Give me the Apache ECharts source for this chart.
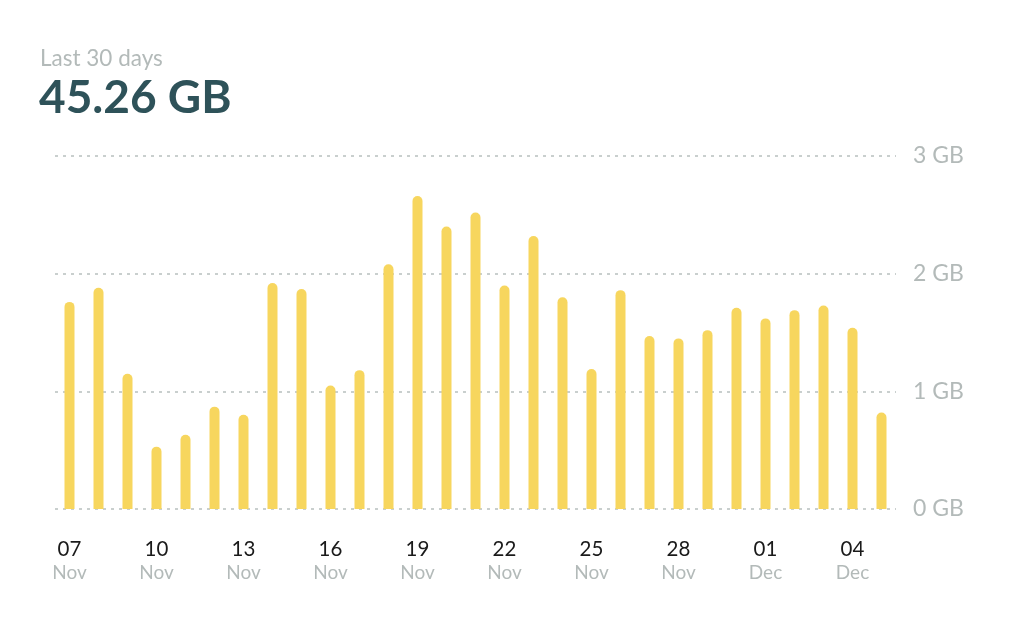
<!DOCTYPE html>
<html>
<head>
<meta charset="utf-8">
<script src="https://cdn.jsdelivr.net/npm/echarts@6/dist/echarts.min.js"></script>
<style>
html,body{margin:0;padding:0;background:#fff;}
#c{width:1024px;height:639px;}
</style>
</head>
<body>
<div id="c"></div>
<script>
const days = ['07','08','09','10','11','12','13','14','15','16','17','18','19','20','21','22','23','24','25','26','27','28','29','30','01','02','03','04','05'];
const months = ['Nov','Nov','Nov','Nov','Nov','Nov','Nov','Nov','Nov','Nov','Nov','Nov','Nov','Nov','Nov','Nov','Nov','Nov','Nov','Nov','Nov','Nov','Nov','Nov','Dec','Dec','Dec','Dec','Dec'];
const usageGB = [1.76,1.88,1.15,0.53,0.63,0.87,0.80,1.92,1.87,1.05,1.18,2.08,2.66,2.40,2.52,1.90,2.32,1.80,1.19,1.86,1.47,1.45,1.52,1.71,1.62,1.69,1.73,1.54,0.82];
const yTicks = [0,1,2,3];
const subtitle = 'Last 30 days';
const total = '45.26 GB';

const categories = days.map((d,i)=>d+'|'+months[i]);
const chart = echarts.init(document.getElementById('c'));
chart.setOption({
  backgroundColor:'#fff',
  animation:false,
  textStyle:{fontFamily:'Lato'},
  title:[
    {text:subtitle,left:35,top:42,textStyle:{fontFamily:'Lato',fontSize:22.5,fontWeight:'normal',color:'#B3BAB9'}},
    {text:total,left:34,top:70,textStyle:{fontFamily:'Lato',fontSize:46,fontWeight:'bold',color:'#2E5259'}}
  ],
  grid:{left:55,right:128,top:156,bottom:130},
  xAxis:{
    type:'category',
    data:categories,
    axisLine:{show:false},
    axisTick:{show:false},
    axisLabel:{
      interval:2,
      margin:28,
      formatter:function(v){const p=v.split('|');return '{d|'+p[0]+'}\n{m|'+p[1]+'}';},
      rich:{
        d:{fontFamily:'Lato',fontSize:20.5,color:'#1a1a1a',lineHeight:24},
        m:{fontFamily:'Lato',fontSize:19,color:'#B3BAB9',lineHeight:24}
      }
    }
  },
  yAxis:{
    type:'value',
    position:'right',
    min:yTicks[0],
    max:yTicks[yTicks.length-1],
    interval:1,
    axisLine:{show:false},
    axisTick:{show:false},
    axisLabel:{margin:17,fontFamily:'Lato',fontSize:23,color:'#B3BAB9',formatter:function(v){return v+' GB';}},
    splitLine:{lineStyle:{type:[3,5],color:'#B8C0BF',width:1.5}}
  },
  series:[{
    type:'bar',
    data:usageGB,
    barWidth:10,
    itemStyle:{color:'#F7D65E',borderRadius:[5,5,0,0]}
  }]
});
</script>
</body>
</html>
